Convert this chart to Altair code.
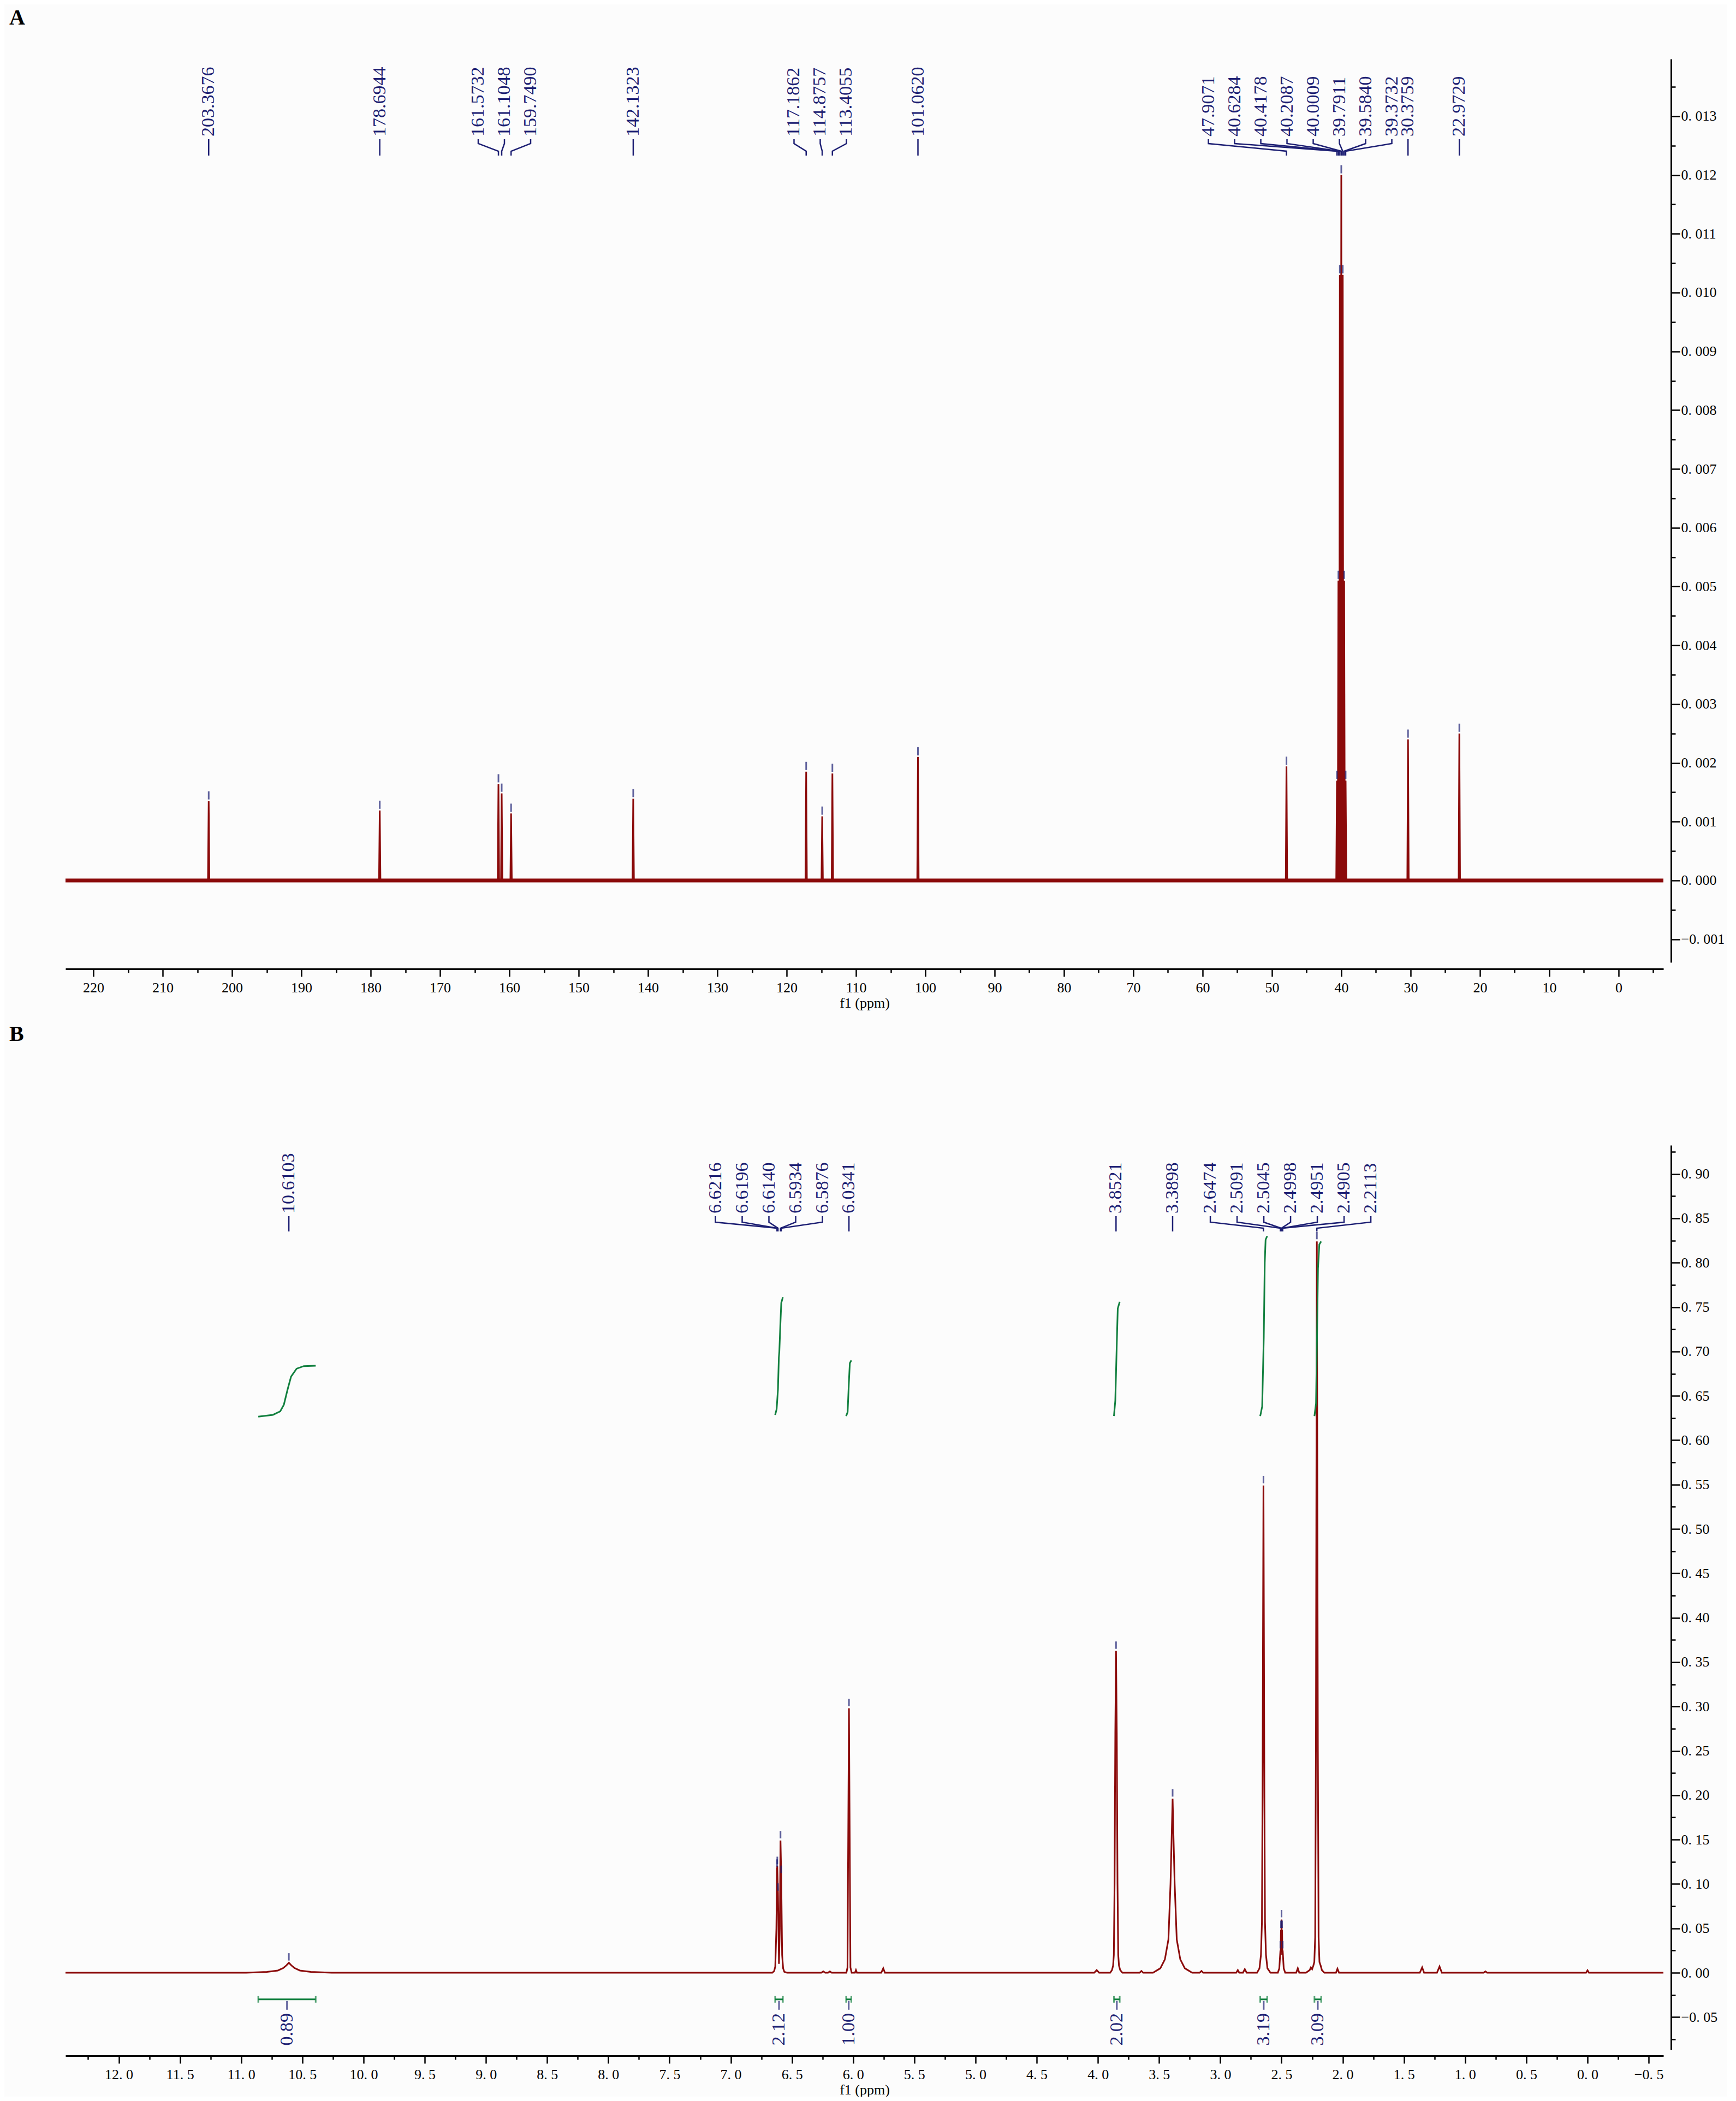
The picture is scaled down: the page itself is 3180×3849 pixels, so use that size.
import altair as alt
import pandas as pd

RED = "#8b0a0a"
NAVY = "#1d1f73"
GREEN = "#12803f"
FONT = "Liberation Serif"

# ---------------- 13C spectrum (panel A) ----------------
c13_ppm = [203.3676, 178.6944, 161.5732, 161.1048, 159.7490, 142.1323, 117.1862,
           114.8757, 113.4055, 101.0620, 47.9071, 40.6284, 40.4178, 40.2087,
           40.0009, 39.7911, 39.5840, 39.3732, 30.3759, 22.9729]
c13_int = [0.00135, 0.00119, 0.00164, 0.00148, 0.00114, 0.00139, 0.00185,
           0.00109, 0.00182, 0.00210, 0.00194, 0.00170, 0.00510, 0.01030,
           0.01200, 0.01030, 0.00510, 0.00170, 0.00240, 0.00250]
c13_linewidth = 0.1  # half base width of a 13C line, ppm
c13_groups = [[203.3676], [178.6944], [161.5732, 161.1048, 159.7490], [142.1323],
              [117.1862, 114.8757, 113.4055], [101.0620],
              [47.9071, 40.6284, 40.4178, 40.2087, 40.0009, 39.7911, 39.5840, 39.3732],
              [30.3759], [22.9729]]

# ---------------- 1H spectrum (panel B) ----------------
h1_ppm = [12.435, 10.96, 10.79, 10.70, 10.655, 10.63, 10.6103, 10.59, 10.565, 10.52, 10.43, 10.26,
          6.66, 6.645, 6.636, 6.627, 6.6216, 6.6196, 6.6140, 6.606, 6.599, 6.5934, 6.5876, 6.580,
          6.572, 6.562, 6.54, 6.26, 6.244, 6.228, 6.205, 6.19, 6.175,
          6.055, 6.046, 6.0341, 6.022, 6.012, 5.985, 5.977, 5.969, 5.77, 5.754, 5.74,
          4.03, 4.010, 3.99,
          3.90, 3.885, 3.876, 3.870, 3.864, 3.858, 3.8521, 3.846, 3.840, 3.834, 3.828, 3.818, 3.80,
          3.66, 3.645, 3.63,
          3.55, 3.49, 3.453, 3.424, 3.407, 3.398, 3.3898, 3.382, 3.373, 3.356, 3.327, 3.29, 3.23,
          3.17, 3.154, 3.14, 2.87, 2.857, 2.845, 2.815, 2.80, 2.785,
          2.70, 2.68, 2.668, 2.660, 2.655, 2.6474, 2.640, 2.635, 2.627, 2.615, 2.59,
          2.53, 2.518, 2.5091, 2.507, 2.5045, 2.502, 2.4998, 2.4975, 2.4951, 2.493, 2.4905, 2.482, 2.47,
          2.38, 2.367, 2.355,
          2.30, 2.27, 2.26, 2.25, 2.24, 2.232, 2.225, 2.219, 2.2113, 2.203, 2.197, 2.19, 2.18, 2.17, 2.15,
          2.055, 2.043, 2.03, 1.37, 1.351, 1.335, 1.23, 1.209, 1.19, 0.85, 0.834, 0.82,
          0.012, 0.0, -0.012, -0.62]
h1_int = [0, 0, 0.001, 0.0025, 0.0054, 0.0083, 0.0113, 0.0083, 0.0054, 0.0025, 0.001, 0,
          0, 0.002, 0.007, 0.05, 0.117, 0.120, 0.090, 0.010, 0.05, 0.149, 0.110, 0.02,
          0.005, 0.001, 0, 0, 0.0015, 0, 0, 0.0015, 0,
          0, 0.006, 0.298, 0.006, 0, 0, 0.003, 0, 0, 0.005, 0,
          0, 0.003, 0,
          0, 0.003, 0.008, 0.02, 0.10, 0.27, 0.3625, 0.27, 0.10, 0.02, 0.008, 0.003, 0,
          0, 0.002, 0,
          0, 0.005, 0.015, 0.0375, 0.10, 0.15, 0.196, 0.15, 0.10, 0.0375, 0.015, 0.005, 0,
          0, 0.002, 0, 0, 0.003, 0, 0, 0.004, 0,
          0, 0.005, 0.02, 0.057, 0.20, 0.549, 0.20, 0.057, 0.02, 0.005, 0,
          0, 0.005, 0.025, 0.02, 0.048, 0.04, 0.060, 0.04, 0.048, 0.02, 0.025, 0.005, 0,
          0, 0.005, 0,
          0, 0.003, 0.006, 0.004, 0.008, 0.012, 0.04, 0.25, 0.824, 0.25, 0.04, 0.012, 0.008, 0.003, 0,
          0, 0.0045, 0, 0, 0.006, 0, 0, 0.007, 0, 0, 0.0015, 0,
          0, 0.0027, 0, 0]
h1_groups = [[10.6103], [6.6216, 6.6196, 6.6140, 6.5934, 6.5876], [6.0341], [3.8521], [3.3898],
             [2.6474, 2.5091, 2.5045, 2.4998, 2.4951, 2.4905, 2.2113]]

# integrals
integral_labels = ["0.89", "2.12", "1.00", "2.02", "3.19", "3.09"]
integral_curve_ppm = [
    [10.860, 10.740, 10.681, 10.651, 10.621, 10.592, 10.547, 10.488, 10.391],
    [6.637, 6.625, 6.614, 6.607, 6.603, 6.595, 6.587, 6.574],
    [6.057, 6.045, 6.035, 6.027, 6.015],
    [3.869, 3.858, 3.847, 3.838, 3.822],
    [2.674, 2.658, 2.645, 2.637, 2.630, 2.617],
    [2.231, 2.218, 2.210, 2.202, 2.191, 2.176],
]
integral_curve_val = [
    [0.6266, 0.6286, 0.6325, 0.640, 0.657, 0.6717, 0.6806, 0.6835, 0.684],
    [0.6285, 0.635, 0.6576, 0.693, 0.6997, 0.7288, 0.7548, 0.7612],
    [0.6272, 0.6317, 0.6641, 0.6867, 0.690],
    [0.6272, 0.6447, 0.7029, 0.7483, 0.756],
    [0.6272, 0.638, 0.7159, 0.80, 0.826, 0.830],
    [0.6272, 0.6415, 0.7159, 0.7935, 0.8207, 0.824],
]
integral_bar_level = -0.03

# ---------------- layout ----------------
LAY_A = dict(xl=224.02, xr=-6.46, ymin=-0.001393, ymax=0.013974, width=2927, height=1655,
             xoff=12, yoff=14, centers={2: 160.71, 4: 115.16, 6: 45.94}, spacing=48,
             text_y=142, conn=(147, 155, 169, 177), tick_size=15, tick_off=-10.5,
             letter="A", letter_y=-95)
LAY_B = dict(xl=12.435, xr=-0.62, ymin=-0.0867, ymax=0.9324, width=2927, height=1657,
             xoff=11, yoff=14, centers={1: 6.688, 5: 2.426}, spacing=49,
             text_y=125, conn=(130, 141, 152, 158), tick_size=13.5, tick_off=-10.75,
             letter="B", letter_y=-223)
LABEL_SIZE = 34


def label_frames(groups, lay):
    px_per_ppm = lay["width"] / (lay["xl"] - lay["xr"])
    step = lay["spacing"] / px_per_ppm
    span = lay["ymax"] - lay["ymin"]

    def val(px):
        return lay["ymax"] - px / lay["height"] * span

    labs, conns = [], []
    for gi, g in enumerate(groups):
        n = len(g)
        c = lay["centers"].get(gi, g[0])
        for i, p in enumerate(g):
            lx = c + ((n - 1) / 2 - i) * step
            labs.append(dict(ppm=lx, t=f"{p:.4f}"))
            y1, y2, y3, y4 = lay["conn"]
            for k, (xx, yy) in enumerate([(lx, y1), (lx, y2), (p, y3), (p, y4)]):
                conns.append(dict(ppm=xx, v=val(yy), lab=f"{gi}-{i}", k=k))
    return pd.DataFrame(labs), pd.DataFrame(conns)


def panel(spec_df, peak_df, groups, lay, xmaj, xmin_, ymaj, ymin_, xexpr, yexpr, extra=None, band=None):
    xs = alt.Scale(domain=[lay["xr"], lay["xl"]], reverse=True, nice=False, zero=False)
    ys = alt.Scale(domain=[lay["ymin"], lay["ymax"]], nice=False, zero=False)

    def X(f="ppm"):
        return alt.X(f"{f}:Q", scale=xs, axis=None)

    def Y(f="v"):
        return alt.Y(f"{f}:Q", scale=ys, axis=None)

    layers = []
    if band is not None:
        layers.append(alt.Chart(band).mark_line(color=RED, strokeWidth=7).encode(x=X(), y=Y()))
    spectrum = alt.Chart(spec_df).mark_line(color=RED, strokeWidth=3).encode(
        x=alt.X("ppm:Q", scale=xs, axis=alt.Axis(
            values=xmaj, orient="bottom", offset=lay["xoff"], tickSize=14, labelExpr=xexpr,
            title="f1 (ppm)", titlePadding=2, labelPadding=7, labelOverlap=False, grid=False)),
        y=alt.Y("v:Q", scale=ys, axis=alt.Axis(
            values=ymaj, orient="right", offset=lay["yoff"], tickSize=16, labelExpr=yexpr,
            title=None, labelPadding=2, labelOverlap=False, grid=False)),
    )
    layers.append(spectrum)
    if extra:
        for e in extra:
            layers.append(e(X, Y))
    labs, conns = label_frames(groups, lay)
    layers.append(alt.Chart(peak_df).mark_tick(orient="vertical", size=lay["tick_size"], thickness=3,
                                               color=NAVY, yOffset=lay["tick_off"]).encode(x=X(), y=Y()))
    layers.append(alt.Chart(conns).mark_line(color=NAVY, strokeWidth=2.5).encode(
        x=X(), y=Y(), detail="lab:N", order="k:Q"))
    layers.append(alt.Chart(labs).mark_text(angle=270, align="left", baseline="middle", font=FONT,
                                            fontSize=LABEL_SIZE, color=NAVY).encode(
        x=X(), y=alt.value(lay["text_y"]), text="t:N"))
    layers.append(alt.Chart(pd.DataFrame({"t": [lay["letter"]]})).mark_text(
        align="left", baseline="top", font=FONT, fontSize=40, fontWeight="bold", color="black").encode(
        x=alt.value(-103), y=alt.value(lay["letter_y"]), text="t:N"))
    minor = alt.Chart(pd.DataFrame({"ppm": [lay["xl"]], "v": [0.0]})).mark_point(opacity=0).encode(
        x=alt.X("ppm:Q", scale=xs, axis=alt.Axis(values=xmin_, orient="bottom", offset=lay["xoff"],
                                                 tickSize=7, labels=False, domain=False, title=None,
                                                 grid=False)),
        y=alt.Y("v:Q", scale=ys, axis=alt.Axis(values=ymin_, orient="right", offset=lay["yoff"],
                                               tickSize=8, labels=False, domain=False, title=None,
                                               grid=False)),
    )
    layers.append(minor)
    return alt.layer(*layers).resolve_axis(x="independent", y="independent").properties(
        width=lay["width"], height=lay["height"])


# ---- panel A data frames ----
rows = [(LAY_A["xl"], 0.0)]
for p, h in sorted(zip(c13_ppm, c13_int), reverse=True):
    rows += [(p + c13_linewidth, 0.0), (p, h), (p - c13_linewidth, 0.0)]
rows.append((LAY_A["xr"], 0.0))
specA = pd.DataFrame(rows, columns=["ppm", "v"])
peaksA = pd.DataFrame({"ppm": c13_ppm, "v": c13_int})
bandA = pd.DataFrame({"ppm": [LAY_A["xl"], LAY_A["xr"]], "v": [0.0, 0.0]})

xmajA = list(range(0, 221, 10))
xminA = [x + 5 for x in range(-10, 220, 10)]
ymajA = [round(i * 0.001, 4) for i in range(-1, 14)]
yminA = [round((i + 0.5) * 0.001, 5) for i in range(-1, 14)]

chartA = panel(specA, peaksA, c13_groups, LAY_A, xmajA, xminA, ymajA, yminA,
               "format(datum.value, '.0f')", "replace(format(datum.value, '.3f'), '.', '. ')",
               band=bandA)

# ---- panel B data frames ----
specB = pd.DataFrame({"ppm": h1_ppm, "v": h1_int})
lookup = dict(zip(h1_ppm, h1_int))
peaksB = pd.DataFrame({"ppm": [p for g in h1_groups for p in g],
                       "v": [lookup[p] for g in h1_groups for p in g]})

curve_rows = []
for gi, (ps, vs) in enumerate(zip(integral_curve_ppm, integral_curve_val)):
    for k, (p, v) in enumerate(zip(ps, vs)):
        curve_rows.append(dict(ppm=p, v=v, g=gi, k=k))
curves = pd.DataFrame(curve_rows)
bars = pd.DataFrame({"ppm": [c[0] for c in integral_curve_ppm], "ppm2": [c[-1] for c in integral_curve_ppm],
                     "v": [integral_bar_level] * 6, "t": integral_labels})
bars["mid"] = (bars["ppm"] + bars["ppm2"]) / 2
caps = pd.DataFrame({"ppm": list(bars["ppm"]) + list(bars["ppm2"]), "v": [integral_bar_level] * 12})


def curve_layer(X, Y):
    return alt.Chart(curves).mark_line(color=GREEN, strokeWidth=3).encode(
        x=X(), y=Y(), detail="g:N", order="k:Q")


def bar_layer(X, Y):
    return alt.Chart(bars).mark_rule(color=GREEN, strokeWidth=3).encode(
        x=X(), x2="ppm2:Q", y=Y())


def cap_layer(X, Y):
    return alt.Chart(caps).mark_tick(orient="vertical", size=12, thickness=3, color=GREEN).encode(
        x=X(), y=Y())


def stem_layer(X, Y):
    return alt.Chart(bars).mark_tick(orient="vertical", size=16, thickness=3, color=NAVY,
                                     yOffset=11).encode(x=X("mid"), y=Y())


def intlabel_layer(X, Y):
    return alt.Chart(bars).mark_text(angle=270, align="right", baseline="middle", font=FONT,
                                     fontSize=LABEL_SIZE, color=NAVY).encode(
        x=X("mid"), y=alt.value(1590), text="t:N")


xmajB = [round(12 - 0.5 * i, 2) for i in range(0, 26)]
xminB = [round(12.25 - 0.5 * i, 2) for i in range(0, 26)]
ymajB = [round(-0.05 + 0.05 * i, 2) for i in range(0, 20)]
yminB = [round(-0.075 + 0.05 * i, 3) for i in range(0, 21)]

chartB = panel(specB, peaksB, h1_groups, LAY_B, xmajB, xminB, ymajB, yminB,
               "replace(format(datum.value, '.1f'), '.', '. ')",
               "replace(format(datum.value, '.2f'), '.', '. ')",
               extra=[curve_layer, bar_layer, cap_layer, stem_layer, intlabel_layer])

chart = alt.vconcat(chartA, chartB, spacing=25).properties(
    padding={"left": 9, "top": 5, "right": 5, "bottom": 0}, background="#fcfcfc"
).configure_view(stroke=None).configure_axis(
    labelFont=FONT, labelFontSize=26, labelColor="black", titleFont=FONT, titleFontSize=26,
    titleFontWeight="normal", titleColor="black", domainColor="black", domainWidth=3,
    tickColor="black", tickWidth=2.5,
)

chart.save("out.html", embed_options={"renderer": "svg", "actions": False})
